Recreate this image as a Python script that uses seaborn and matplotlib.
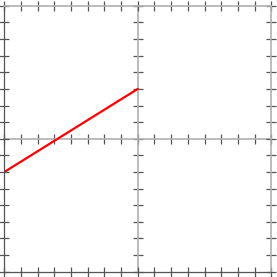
import matplotlib
matplotlib.use("Agg")

import matplotlib.pyplot as plt
import seaborn as sns
import numpy as np
import pandas as pd

# line segment (data units, axes span -8..8)
x_vals = [-8, 0]
y_vals = [-2, 3]
x_ticks = list(range(-8, 9))
y_ticks = list(range(-8, 9))

sns.set_style("white")

df = pd.DataFrame({"x": x_vals, "y": y_vals})

fig = plt.figure(figsize=(2.77, 2.77), dpi=100)
rect = (0.0155, 0.0191, 0.964, 0.960)
light = "#b0b0b0"
dark = "#555555"

# center cross with ticks (drawn underneath)
ax2 = fig.add_axes(rect)
ax2.set_xlim(-8, 8)
ax2.set_ylim(-8, 8)
ax2.set_xticks(x_ticks)
ax2.set_yticks(y_ticks)
ax2.spines["left"].set_position(("data", 0))
ax2.spines["bottom"].set_position(("data", 0))
ax2.spines["top"].set_visible(False)
ax2.spines["right"].set_visible(False)
for side in ("left", "bottom"):
    ax2.spines[side].set_visible(True)
    ax2.spines[side].set_color(light)
    ax2.spines[side].set_linewidth(1.2)
ax2.tick_params(axis="both", which="both", direction="inout", length=6.5, width=0.9,
                color=dark, bottom=True, left=True, top=False, right=False,
                labelleft=False, labelbottom=False)

# outer box with ticks on every side
ax = fig.add_axes(rect, facecolor="none")
sns.lineplot(data=df, x="x", y="y", ax=ax, color="#ff0000", linewidth=1.6)
ax.set_xlim(-8, 8)
ax.set_ylim(-8, 8)
ax.set_xticks(x_ticks)
ax.set_yticks(y_ticks)
ax.set_xlabel("")
ax.set_ylabel("")
ax.tick_params(axis="both", which="both", direction="inout", length=6.5, width=0.9,
               color=dark, top=True, right=True, bottom=True, left=True,
               labelleft=False, labelbottom=False)
for side, s in ax.spines.items():
    s.set_visible(True)
    if side in ("left", "bottom"):
        s.set_color(dark)
        s.set_linewidth(0.9)
    else:
        s.set_color(light)
        s.set_linewidth(1.2)

fig.savefig("out.png", dpi=100)
plt.close(fig)
